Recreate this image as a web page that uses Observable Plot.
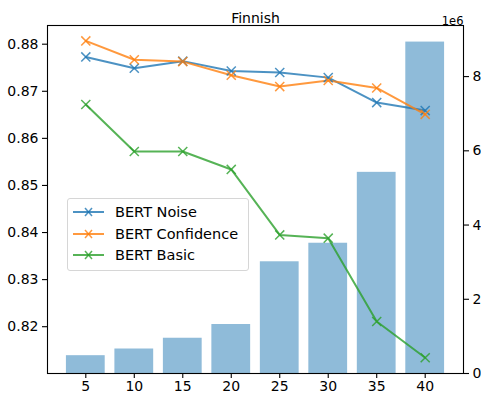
<!DOCTYPE html>
<html><head><meta charset="utf-8">
<script src="https://cdn.jsdelivr.net/npm/d3@7"></script>
<script src="https://cdn.jsdelivr.net/npm/@observablehq/plot@0.6"></script>
<style>
body{margin:0;background:#fff;font-family:"DejaVu Sans",sans-serif;}
#wrap{position:relative;width:481px;height:394px;}
#wrap > .layer{position:absolute;left:0;top:0;}
#legend{position:absolute;left:67px;top:198px;width:180px;height:71px;border:1px solid #d6d6d6;border-radius:3px;background:rgba(255,255,255,0.8);font-size:14.5px;color:#000;}
#legend .row{position:absolute;left:5px;height:20px;display:flex;align-items:center;}
#legend .row span{margin-left:11px;white-space:nowrap;}
</style></head>
<body><div id="wrap"></div>
<script>
const title = "Finnish";
const xValues = [5, 10, 15, 20, 25, 30, 35, 40];
const barValues = [0.48e6, 0.66e6, 0.95e6, 1.32e6, 3.01e6, 3.51e6, 5.42e6, 8.93e6];
const seriesNames = ["BERT Noise", "BERT Confidence", "BERT Basic"];
const seriesColors = ["#1f77b4", "#ff7f0e", "#2ca02c"];
const bertNoise = [0.8773, 0.8749, 0.8764, 0.8743, 0.8740, 0.8729, 0.8676, 0.8659];
const bertConfidence = [0.8807, 0.8767, 0.8763, 0.8734, 0.8710, 0.8723, 0.8707, 0.8651];
const bertBasic = [0.8672, 0.8572, 0.8572, 0.8534, 0.8395, 0.8388, 0.8211, 0.8134];
const leftTicks = [0.82, 0.83, 0.84, 0.85, 0.86, 0.87, 0.88];
const rightTicks = [0, 2e6, 4e6, 6e6, 8e6];
const rightExponent = "1e6";

const W = 481, H = 394;
const margins = {marginLeft: 47, marginRight: 18, marginTop: 25, marginBottom: 21};
const xDomain = [1.05, 43.95];
const style = {fontFamily: "DejaVu Sans", fontSize: "14px", background: "transparent", overflow: "visible", color: "#000"};

const bars = xValues.map((x, i) => ({x, v: barValues[i]}));
const lineData = [];
[bertNoise, bertConfidence, bertBasic].forEach((arr, s) =>
  arr.forEach((v, i) => lineData.push({series: seriesNames[s], x: xValues[i], y: v})));

const wrap = document.getElementById("wrap");

const p1 = Plot.plot({
  width: W, height: H, ...margins, style,
  x: {domain: xDomain, axis: null},
  y: {domain: [0, 9.3765e6], axis: null},
  marks: [
    Plot.rectY(bars, {x1: d => d.x - 2, x2: d => d.x + 2, y: "v", fill: "#8fbbd9"}),
    Plot.axisY({anchor: "right", label: null, ticks: rightTicks, tickFormat: d => String(d / 1e6), tickSize: 5, tickPadding: 4, fontSize: 14, strokeWidth: 1.1}),
    Plot.text([rightExponent], {frameAnchor: "top-right", dy: -9, dx: 0, fontSize: 11.5})
  ]
});
p1.classList.add("layer");
wrap.appendChild(p1);

const p2 = Plot.plot({
  width: W, height: H, ...margins, style,
  x: {domain: xDomain},
  y: {domain: [0.81006, 0.88397]},
  color: {domain: seriesNames, range: seriesColors},
  marks: [
    Plot.line(lineData, {x: "x", y: "y", stroke: "series", strokeWidth: 2, strokeOpacity: 0.8}),
    Plot.dot(lineData, {x: "x", y: "y", stroke: "series", symbol: "times", r: 4.2, strokeWidth: 1.5, strokeOpacity: 0.8}),
    Plot.axisX({label: null, ticks: xValues, tickSize: 5, tickPadding: 3, fontSize: 14, strokeWidth: 1.1}),
    Plot.axisY({label: null, ticks: leftTicks, tickFormat: d3.format(".2f"), tickSize: 5, tickPadding: 4, fontSize: 14, strokeWidth: 1.1}),
    Plot.frame({stroke: "#000", strokeWidth: 1.1}),
    Plot.text([title], {frameAnchor: "top", dy: -12, fontSize: 14})
  ]
});
p2.classList.add("layer");
wrap.appendChild(p2);

const legend = document.createElement("div");
legend.id = "legend";
seriesNames.forEach((name, i) => {
  const row = document.createElement("div");
  row.className = "row";
  row.style.top = (3 + i * 21.7) + "px";
  const c = seriesColors[i];
  row.innerHTML = `<svg width="31" height="12"><g stroke="${c}" stroke-opacity="0.8" stroke-width="2"><line x1="0" y1="6" x2="31" y2="6"/><line x1="12" y1="2" x2="19" y2="10" stroke-width="1.5"/><line x1="12" y1="10" x2="19" y2="2" stroke-width="1.5"/></g></svg><span>${name}</span>`;
  legend.appendChild(row);
});
wrap.appendChild(legend);
</script></body></html>
